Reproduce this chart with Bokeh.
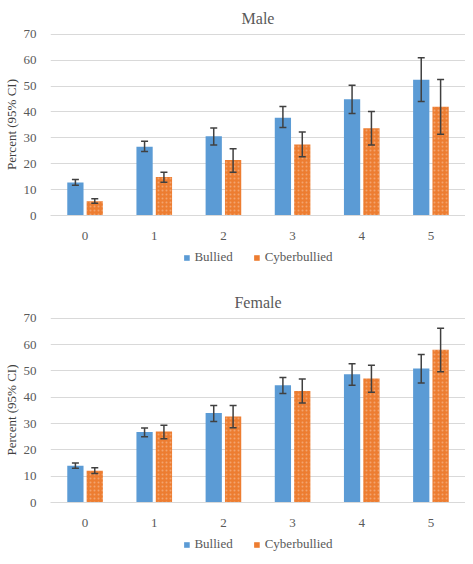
from bokeh.plotting import figure
from bokeh.models import ColumnDataSource, Whisker, Legend, LegendItem, FactorRange, Range1d, TeeHead
from bokeh.transform import dodge
from bokeh.layouts import column
from bokeh.embed import file_html
from bokeh.resources import INLINE

categories = ["0", "1", "2", "3", "4", "5"]
series_names = ["Bullied", "Cyberbullied"]

male_bullied = [12.7, 26.6, 30.6, 37.8, 44.9, 52.4]
male_bullied_lo = [11.7, 24.7, 27.2, 34.0, 39.4, 44.0]
male_bullied_hi = [13.9, 28.7, 33.8, 42.1, 50.3, 60.9]
male_cyber = [5.5, 14.9, 21.4, 27.4, 33.7, 42.0]
male_cyber_lo = [4.7, 12.8, 16.7, 22.7, 27.2, 31.4]
male_cyber_hi = [6.5, 16.7, 25.8, 32.3, 40.2, 52.5]

female_bullied = [14.0, 26.8, 34.0, 44.6, 48.7, 50.9]
female_bullied_lo = [13.0, 25.0, 30.8, 41.4, 44.6, 45.4]
female_bullied_hi = [15.0, 28.3, 36.9, 47.5, 52.7, 56.2]
female_cyber = [12.1, 27.0, 32.7, 42.4, 47.1, 58.0]
female_cyber_lo = [11.0, 24.2, 28.4, 37.8, 41.9, 49.7]
female_cyber_hi = [13.2, 29.4, 36.9, 46.9, 52.2, 66.2]

BLUE = "#5B9BD5"
ORANGE = "#ED7D31"
TEXT = "#595959"
GRID = "#D9D9D9"
ERR = "#404040"
FONT = "Liberation Serif"


def make(title, b, blo, bhi, c, clo, chi, top_border, frame_h):
    src = ColumnDataSource(dict(cat=categories, b=b, blo=blo, bhi=bhi, c=c, clo=clo, chi=chi))
    p = figure(x_range=FactorRange(*categories), y_range=Range1d(0, 70.3),
               width=465, frame_height=frame_h, output_backend="svg", toolbar_location=None,
               min_border_left=0, min_border_right=0, min_border_top=top_border, min_border_bottom=0)
    p.outline_line_color = None
    p.title.text = title
    p.title.align = "center"
    p.title.text_font = FONT
    p.title.text_font_size = "16px"
    p.title.text_font_style = "normal"
    p.title.text_color = TEXT
    p.title.standoff = 14

    p.vbar(x=dodge("cat", -0.14, range=p.x_range), top="b", width=0.235, source=src,
           fill_color=BLUE, line_color=None)
    p.vbar(x=dodge("cat", 0.14, range=p.x_range), top="c", width=0.235, source=src,
           fill_color=ORANGE, line_color=None,
           hatch_pattern="dot", hatch_color="white", hatch_alpha=0.3, hatch_scale=4, hatch_weight=1)

    for base, lo, hi in [(-0.14, "blo", "bhi"), (0.14, "clo", "chi")]:
        w = Whisker(source=src, base=dodge("cat", base, range=p.x_range), lower=lo, upper=hi,
                    line_color=ERR, line_width=1.5, level="overlay",
                    upper_head=TeeHead(size=7, line_color=ERR, line_width=1.5),
                    lower_head=TeeHead(size=7, line_color=ERR, line_width=1.5))
        p.add_layout(w)

    p.xgrid.grid_line_color = None
    p.ygrid.grid_line_color = GRID
    p.yaxis.ticker = [0, 10, 20, 30, 40, 50, 60, 70]
    p.yaxis.axis_line_color = None
    p.yaxis.major_tick_line_color = None
    p.yaxis.minor_tick_line_color = None
    p.yaxis.major_label_text_font = FONT
    p.yaxis.major_label_text_font_size = "13px"
    p.yaxis.major_label_text_color = TEXT
    p.yaxis.major_label_standoff = 8
    p.yaxis.axis_label = "Percent (95% CI)"
    p.yaxis.axis_label_text_font = FONT
    p.yaxis.axis_label_text_font_size = "13px"
    p.yaxis.axis_label_text_font_style = "normal"
    p.yaxis.axis_label_text_color = "#404040"
    p.yaxis.axis_label_standoff = 2

    p.xaxis.axis_line_color = GRID
    p.xaxis.major_tick_line_color = None
    p.xaxis.minor_tick_line_color = None
    p.xaxis.major_label_text_font = FONT
    p.xaxis.major_label_text_font_size = "13px"
    p.xaxis.major_label_text_color = TEXT
    p.xaxis.major_label_standoff = 10
    return p


def legend_fig(height):
    lf = figure(width=465, height=height, x_range=(0, 1), y_range=(0, 1),
                output_backend="svg", toolbar_location=None,
                x_axis_location=None, y_axis_location=None, min_border=0)
    lf.grid.visible = False
    lf.outline_line_color = None
    # legend swatches only: their bars lie outside the visible range
    r1 = lf.vbar(x=[-5], top=[-5], width=0.1, fill_color=BLUE, line_color=None)
    r2 = lf.vbar(x=[-5], top=[-5], width=0.1, fill_color=ORANGE, line_color=None)
    legend = Legend(items=[LegendItem(label=series_names[0], renderers=[r1]),
                           LegendItem(label=series_names[1], renderers=[r2])],
                    orientation="horizontal", location="center",
                    border_line_color=None, background_fill_alpha=0,
                    label_text_font=FONT, label_text_font_size="13px", label_text_color=TEXT,
                    glyph_width=7, glyph_height=7, spacing=20, padding=0, margin=0,
                    label_standoff=5)
    lf.add_layout(legend, "center")
    return lf


p1 = make("Male", male_bullied, male_bullied_lo, male_bullied_hi,
          male_cyber, male_cyber_lo, male_cyber_hi, 0, 182)
l1 = legend_fig(30)
p2 = make("Female", female_bullied, female_bullied_lo, female_bullied_hi,
          female_cyber, female_cyber_lo, female_cyber_hi, 45, 185)
l2 = legend_fig(30)

layout = column(p1, l1, p2, l2, spacing=0)
open("out.html", "w").write(file_html(layout, INLINE))
